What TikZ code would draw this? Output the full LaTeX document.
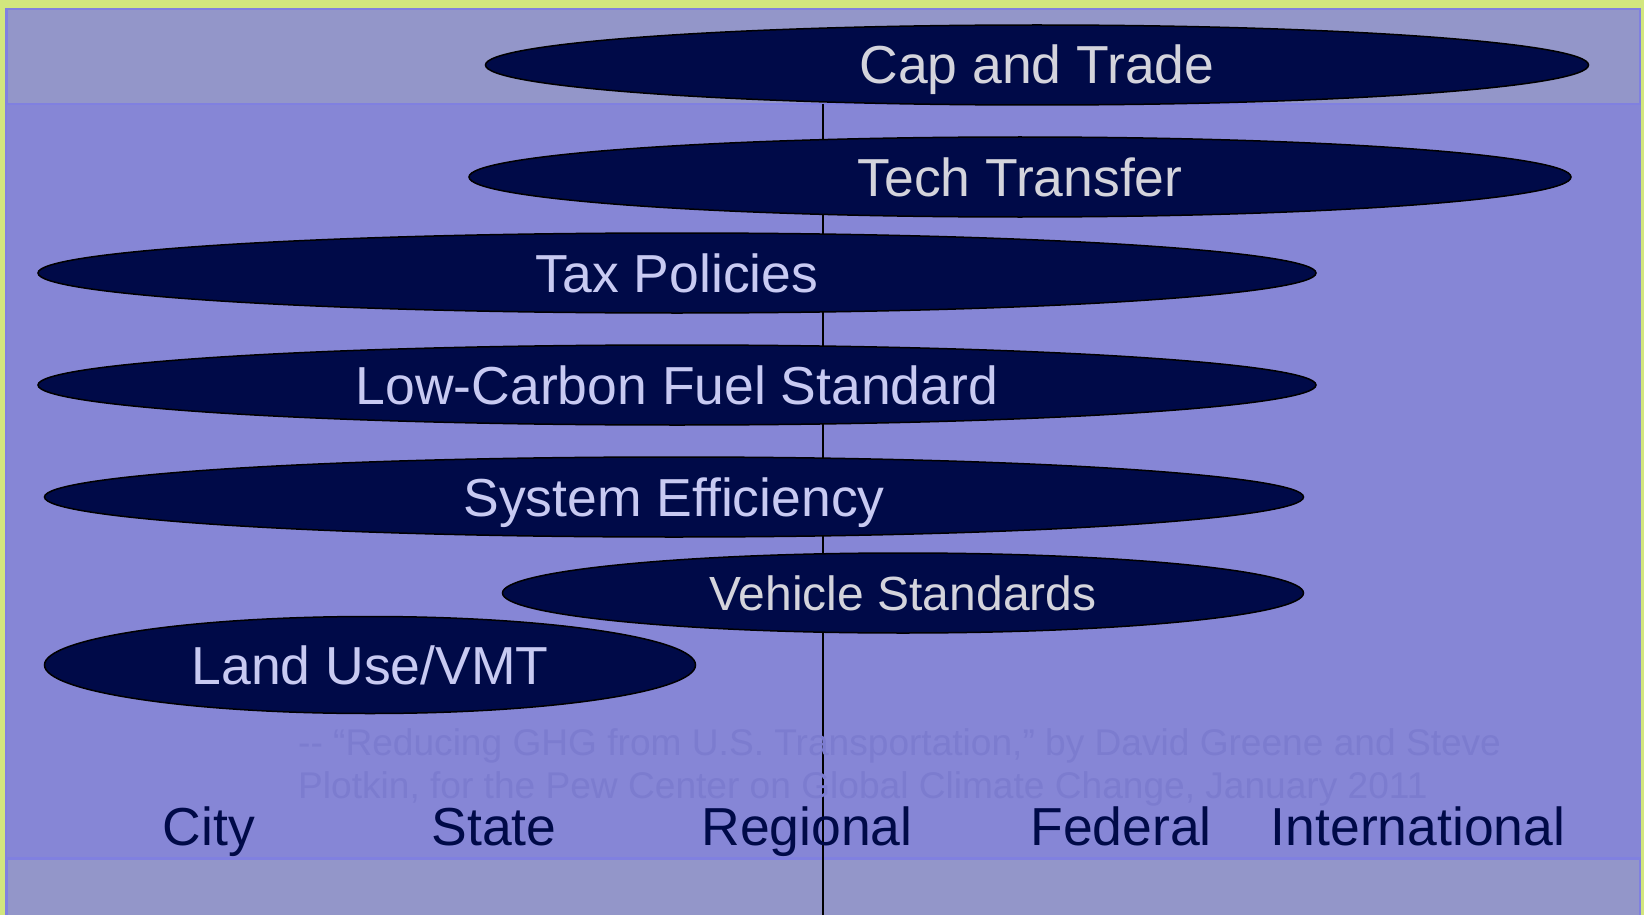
\documentclass[tikz,border=0pt]{standalone}
\usepackage{fontspec}
\setmainfont{Liberation Sans}
\usetikzlibrary{shapes.geometric}
\definecolor{pagegreen}{HTML}{D2E67E}
\definecolor{bandgray}{HTML}{9396C9}
\definecolor{mainblue}{HTML}{8686D6}
\definecolor{edgeblue}{HTML}{8080E0}
\definecolor{navy}{HTML}{000A48}
\definecolor{lightgray}{HTML}{D4D4DC}
\definecolor{lavender}{HTML}{C8CAF2}
\definecolor{captioncol}{HTML}{7C7CCF}
\tikzset{
  pol/.style={ellipse, draw=black, line width=1.5pt, fill=navy, inner sep=0pt,
    minimum height=80pt, font=\fontsize{53.5}{60}\selectfont,
    text height=38pt, text depth=0pt},
  polgray/.style={pol, text=lightgray},
  pollav/.style={pol, text=lavender},
  axislabel/.style={anchor=base, text=navy, inner sep=0pt, font=\fontsize{53.5}{60}\selectfont},
  caption/.style={anchor=base west, text=captioncol, inner sep=0pt, font=\fontsize{37.1}{43}\selectfont},
  axisline/.style={draw=black, line width=1.5pt}
}
\begin{document}
\begin{tikzpicture}[x=1pt,y=-1pt]
\useasboundingbox (0,0) rectangle (1644,915);
% backgrounds
\fill[pagegreen] (0,0) rectangle (1644,915);
\fill[edgeblue] (5,8) rectangle (1641,915);
\fill[bandgray] (8,10) rectangle (1639,103);
\fill[mainblue] (7,105) rectangle (1641,857);
\fill[bandgray] (8,860) rectangle (1639,915);
% vertical line
\coordinate (vtop) at (823,104);
\coordinate (vbot) at (823,915);
\draw[axisline] (vtop) -- (vbot);
% caption
\node[caption] (cap1) at (298,755) {{-}{-} “Reducing GHG from U.S. Transportation,” by David Greene and Steve};
\node[caption] (cap2) at (298,798) {Plotkin, for the Pew Center on Global Climate Change, January 2011};
% axis labels
\node[axislabel] (city) at (209,845) {City};
\node[axislabel] (state) at (494,845) {State};
\node[axislabel] (regional) at (807,845) {Regional};
\node[axislabel] (federal) at (1121,845) {Federal};
\node[axislabel] (intl) at (1418,845) {International};
% policies
\node[polgray, minimum width=1103pt] (captrade) at (1037,65) {Cap and Trade};
\node[polgray, minimum width=1102pt] (tech) at (1020,177) {Tech Transfer};
\node[pollav, minimum width=1278pt] (tax) at (677,273) {Tax Policies};
\node[pollav, minimum width=1278pt] (lcfs) at (677,385) {Low-Carbon Fuel Standard};
\node[pollav, minimum width=1259pt] (sys) at (674,497) {System Efficiency};
\node[polgray, minimum width=801pt, font=\fontsize{48}{54}\selectfont, text height=34pt] (veh) at (903,593) {Vehicle Standards};
\node[pollav, minimum width=651pt, minimum height=97pt] (land) at (370,665) {Land Use/VMT};
\end{tikzpicture}
\end{document}
